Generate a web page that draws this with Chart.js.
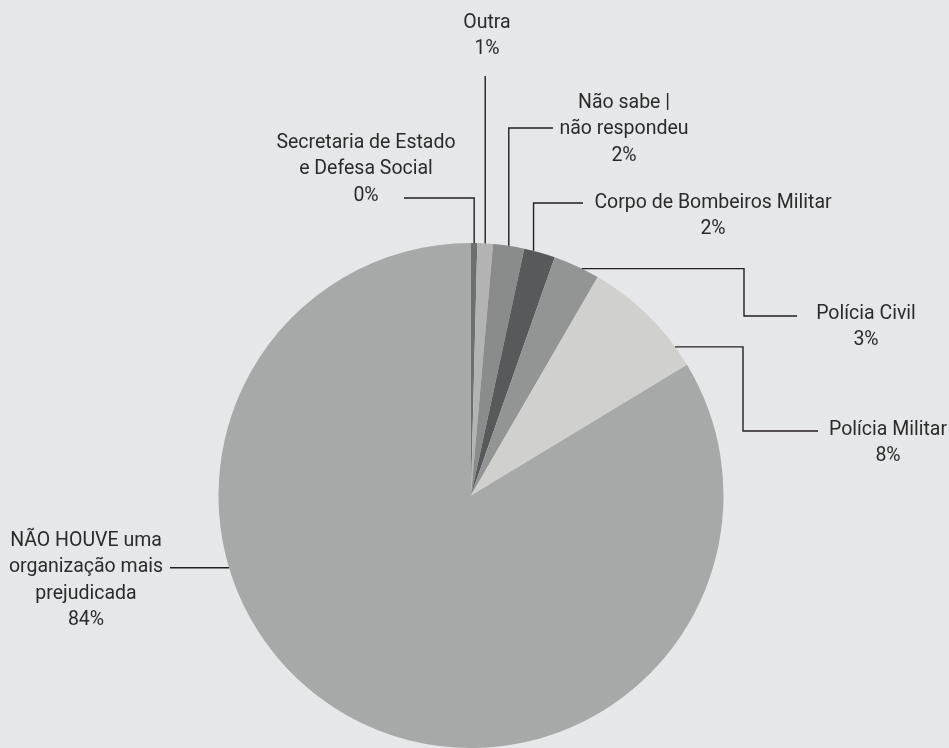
<!DOCTYPE html>
<html>
<head>
<meta charset="utf-8">
<script src="https://cdn.jsdelivr.net/npm/chart.js@4.4.1/dist/chart.umd.min.js"></script>
<style>
  html, body { margin: 0; padding: 0; background: #e6e7e8; }
  #wrap { position: relative; width: 949px; height: 748px; }
</style>
</head>
<body>
<div id="wrap"><canvas id="pie"></canvas></div>
<script>
// Organizations named as most harmed (share of answers, %)
const categories = [
  ['Secretaria de Estado', 'e Defesa Social'],
  ['Outra'],
  ['Não sabe |', 'não respondeu'],
  ['Corpo de Bombeiros Militar'],
  ['Polícia Civil'],
  ['Polícia Militar'],
  ['NÃO HOUVE uma', 'organização mais', 'prejudicada']
];
const shares = [0.4, 1, 2, 2, 3, 8, 84];
const sliceColors = ['#6d6e6e', '#b3b3b3', '#8a8b8b', '#58595b', '#939494', '#d0d0ce', '#a7a9a8'];

// Leader line per slice: where it leaves the arc (fraction of the slice), the
// elbow route (x = horizontal move, y = vertical move) and the text block.
const callouts = [
  { f: 0.5,  route: [{ y: 198 }, { x: 404 }],             tx: 366, ty: 143 },
  { f: 0.5,  route: [{ y: 76 }],                          tx: 487, ty: 23 },
  { f: 0.5,  route: [{ y: 128 }, { x: 553 }],             tx: 624, ty: 103 },
  { f: 0.3,  route: [{ y: 203 }, { x: 583 }],             tx: 713, ty: 203 },
  { f: 0.62, route: [{ x: 744 }, { y: 316 }, { x: 797 }], tx: 866, ty: 314 },
  { f: 0.83, route: [{ x: 743 }, { y: 431 }, { x: 818 }], tx: 888, ty: 430 },
  { f: 0.646, route: [{ x: 170 }],                        tx: 86,  ty: 541 }
];

const calloutPlugin = {
  id: 'callouts',
  afterDatasetsDraw(chart) {
    const ctx = chart.ctx;
    const arcs = chart.getDatasetMeta(0).data;
    ctx.save();
    ctx.strokeStyle = '#231f20';
    ctx.lineWidth = 1.4;
    ctx.fillStyle = '#2b2b2b';
    ctx.font = '19.5px Roboto, "Open Sans", sans-serif';
    ctx.textAlign = 'center';
    ctx.textBaseline = 'middle';
    arcs.forEach((arc, i) => {
      const c = callouts[i];
      const p = arc.getProps(['x', 'y', 'startAngle', 'endAngle', 'outerRadius'], true);
      const a = p.startAngle + c.f * (p.endAngle - p.startAngle);
      let x = p.x + Math.cos(a) * p.outerRadius;
      let y = p.y + Math.sin(a) * p.outerRadius;
      ctx.beginPath();
      ctx.moveTo(x, y);
      c.route.forEach(step => {
        if (step.x !== undefined) x = step.x;
        if (step.y !== undefined) y = step.y;
        ctx.lineTo(x, y);
      });
      ctx.stroke();
      const lines = categories[i].concat([Math.round(shares[i]) + '%']);
      lines.forEach((t, k) => ctx.fillText(t, c.tx, c.ty + k * 26.5));
    });
    ctx.restore();
  }
};

new Chart(document.getElementById('pie'), {
  type: 'pie',
  data: {
    labels: categories.map(l => l.join(' ')),
    datasets: [{ data: shares, backgroundColor: sliceColors, borderWidth: 0 }]
  },
  options: {
    responsive: true,
    maintainAspectRatio: false,
    animation: false,
    layout: { padding: { top: 243, bottom: 0, left: 218, right: 225 } },
    plugins: { legend: { display: false }, tooltip: { enabled: false } }
  },
  plugins: [calloutPlugin]
});
</script>
</body>
</html>
